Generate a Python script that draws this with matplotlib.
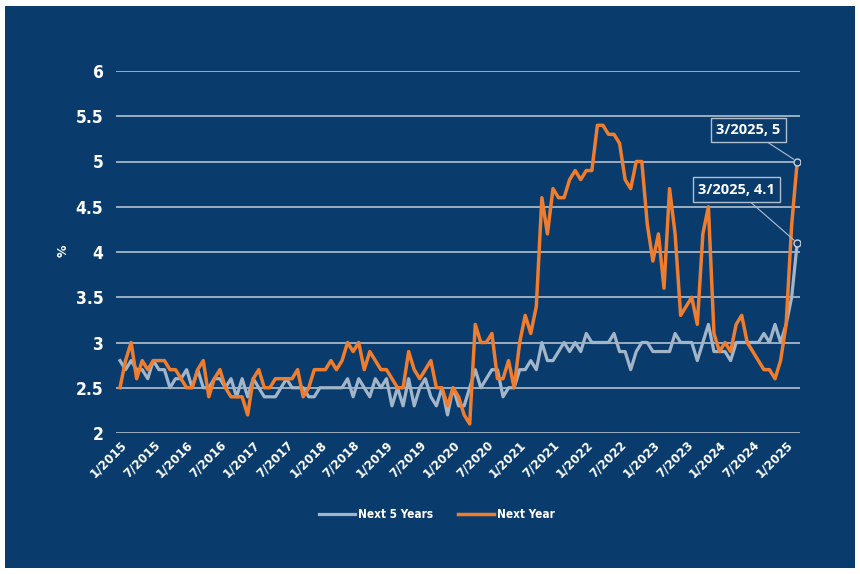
import matplotlib
matplotlib.use("Agg")
import matplotlib.pyplot as plt
from matplotlib import font_manager
from matplotlib.patches import Rectangle

# inflation expectations, monthly 1/2015 .. 3/2025
next_year = [
    2.5, 2.8, 3.0, 2.6, 2.8, 2.7, 2.8, 2.8, 2.8, 2.7, 2.7, 2.6,   # 2015
    2.5, 2.5, 2.7, 2.8, 2.4, 2.6, 2.7, 2.5, 2.4, 2.4, 2.4, 2.2,   # 2016
    2.6, 2.7, 2.5, 2.5, 2.6, 2.6, 2.6, 2.6, 2.7, 2.4, 2.5, 2.7,   # 2017
    2.7, 2.7, 2.8, 2.7, 2.8, 3.0, 2.9, 3.0, 2.7, 2.9, 2.8, 2.7,   # 2018
    2.7, 2.6, 2.5, 2.5, 2.9, 2.7, 2.6, 2.7, 2.8, 2.5, 2.5, 2.3,   # 2019
    2.5, 2.4, 2.2, 2.1, 3.2, 3.0, 3.0, 3.1, 2.6, 2.6, 2.8, 2.5,   # 2020
    3.0, 3.3, 3.1, 3.4, 4.6, 4.2, 4.7, 4.6, 4.6, 4.8, 4.9, 4.8,   # 2021
    4.9, 4.9, 5.4, 5.4, 5.3, 5.3, 5.2, 4.8, 4.7, 5.0, 5.0, 4.3,   # 2022
    3.9, 4.2, 3.6, 4.7, 4.2, 3.3, 3.4, 3.5, 3.2, 4.2, 4.5, 3.1,   # 2023
    2.9, 3.0, 2.9, 3.2, 3.3, 3.0, 2.9, 2.8, 2.7, 2.7, 2.6, 2.8,   # 2024
    3.2, 4.3, 5.0,                                                # 2025
]
next_5_years = [
    2.8, 2.7, 2.8, 2.7, 2.7, 2.6, 2.8, 2.7, 2.7, 2.5, 2.6, 2.6,
    2.7, 2.5, 2.7, 2.5, 2.5, 2.6, 2.6, 2.5, 2.6, 2.4, 2.6, 2.4,
    2.6, 2.5, 2.4, 2.4, 2.4, 2.5, 2.6, 2.5, 2.5, 2.5, 2.4, 2.4,
    2.5, 2.5, 2.5, 2.5, 2.5, 2.6, 2.4, 2.6, 2.5, 2.4, 2.6, 2.5,
    2.6, 2.3, 2.5, 2.3, 2.6, 2.3, 2.5, 2.6, 2.4, 2.3, 2.5, 2.2,
    2.5, 2.3, 2.3, 2.5, 2.7, 2.5, 2.6, 2.7, 2.7, 2.4, 2.5, 2.5,
    2.7, 2.7, 2.8, 2.7, 3.0, 2.8, 2.8, 2.9, 3.0, 2.9, 3.0, 2.9,
    3.1, 3.0, 3.0, 3.0, 3.0, 3.1, 2.9, 2.9, 2.7, 2.9, 3.0, 3.0,
    2.9, 2.9, 2.9, 2.9, 3.1, 3.0, 3.0, 3.0, 2.8, 3.0, 3.2, 2.9,
    2.9, 2.9, 2.8, 3.0, 3.0, 3.0, 3.0, 3.0, 3.1, 3.0, 3.2, 3.0,
    3.2, 3.5, 4.1,
]
x_labels = ["1/2015", "7/2015", "1/2016", "7/2016", "1/2017", "7/2017",
            "1/2018", "7/2018", "1/2019", "7/2019", "1/2020", "7/2020",
            "1/2021", "7/2021", "1/2022", "7/2022", "1/2023", "7/2023",
            "1/2024", "7/2024", "1/2025"]
y_ticks = [2, 2.5, 3, 3.5, 4, 4.5, 5, 5.5, 6]
y_labels = ["2", "2.5", "3", "3.5", "4", "4.5", "5", "5.5", "6"]

BG = "#093b6c"
ORANGE = "#ef7d2d"
GREY = "#a3b6c9"
GRID = "#b3c1cf"


def is_bold(w):
    if isinstance(w, str):
        return w in ("bold", "heavy", "black", "extra bold", "ultrabold")
    return w >= 600


# the original uses a bold condensed face; take one if it is there
narrow_fonts = [f for f in font_manager.fontManager.ttflist
                if ("Narrow" in f.name or "Condensed" in f.name
                    or f.stretch in ("condensed", "semi-condensed", 75, 87))
                and is_bold(f.weight)]
if narrow_fonts:
    narrow_fp = font_manager.FontProperties(fname=narrow_fonts[0].fname)
else:
    narrow_fp = font_manager.FontProperties(family="DejaVu Sans", weight="bold")

months = list(range(len(next_year)))

fig = plt.figure(figsize=(8.6, 5.74), dpi=100, facecolor="white")
fig.patches.append(Rectangle((5 / 860, 6 / 574), 850 / 860, 562 / 574,
                             transform=fig.transFigure, facecolor=BG,
                             edgecolor="none", zorder=-10))

ax = fig.add_axes([116 / 860, 141 / 574, 684 / 860, 362 / 574])
ax.set_facecolor("none")

ax.plot(months, next_5_years, color=GREY, lw=2.3, label="Next 5 Years", zorder=3)
ax.plot(months, next_year, color=ORANGE, lw=2.5, label="Next Year", zorder=4)

ax.set_xlim(-0.72, 122.5)
ax.set_ylim(2, 6)
ax.set_yticks(y_ticks)
ax.set_yticklabels(y_labels)
ax.set_xticks(range(0, 121, 6))
ax.set_xticklabels(x_labels, rotation=45, ha="right", rotation_mode="anchor")
ax.grid(axis="y", color=GRID, lw=1.2)
ax.set_axisbelow(True)
for s in ax.spines.values():
    s.set_visible(False)
ax.tick_params(length=0, colors="white")
ax.tick_params(axis="y", pad=9)
ax.tick_params(axis="x", pad=4)
for lab in ax.get_yticklabels():
    lab.set_fontproperties(narrow_fp)
    lab.set_fontsize(12.5)
for lab in ax.get_xticklabels():
    lab.set_fontproperties(narrow_fp)
    lab.set_fontsize(9.5)

fig.text(63 / 860, 1 - 251 / 574, "%", rotation=90, color="white",
         fontsize=9, fontweight="bold", ha="center", va="center")

# end point call-outs
last = len(next_year) - 1
for series, txt, pos in [(next_year, "3/2025, 5", (113.2, 5.35)),
                         (next_5_years, "3/2025, 4.1", (111.0, 4.69))]:
    ax.plot(last, series[last], "o", ms=5, mfc=BG, mec="#c9d3dd", mew=1, zorder=5)
    ax.annotate(txt, xy=(last, series[last]), xytext=pos,
                ha="center", va="center", color="white", fontsize=10.5,
                fontweight="bold", family="Open Sans",
                bbox=dict(boxstyle="square,pad=0.35", fc=BG, ec="#b0bfcf", lw=1),
                arrowprops=dict(arrowstyle="-", color="#b0bfcf", lw=0.8,
                                shrinkA=0, shrinkB=3),
                zorder=6)

leg = fig.legend(loc="center", bbox_to_anchor=(437 / 860, 59 / 574), ncol=2,
                 frameon=False, handlelength=2.6, handletextpad=0.2,
                 columnspacing=1.8)
for t in leg.get_texts():
    t.set_fontproperties(narrow_fp)
    t.set_fontsize(8.5)
    t.set_color("white")

fig.savefig("out.png", dpi=100, facecolor="white")
